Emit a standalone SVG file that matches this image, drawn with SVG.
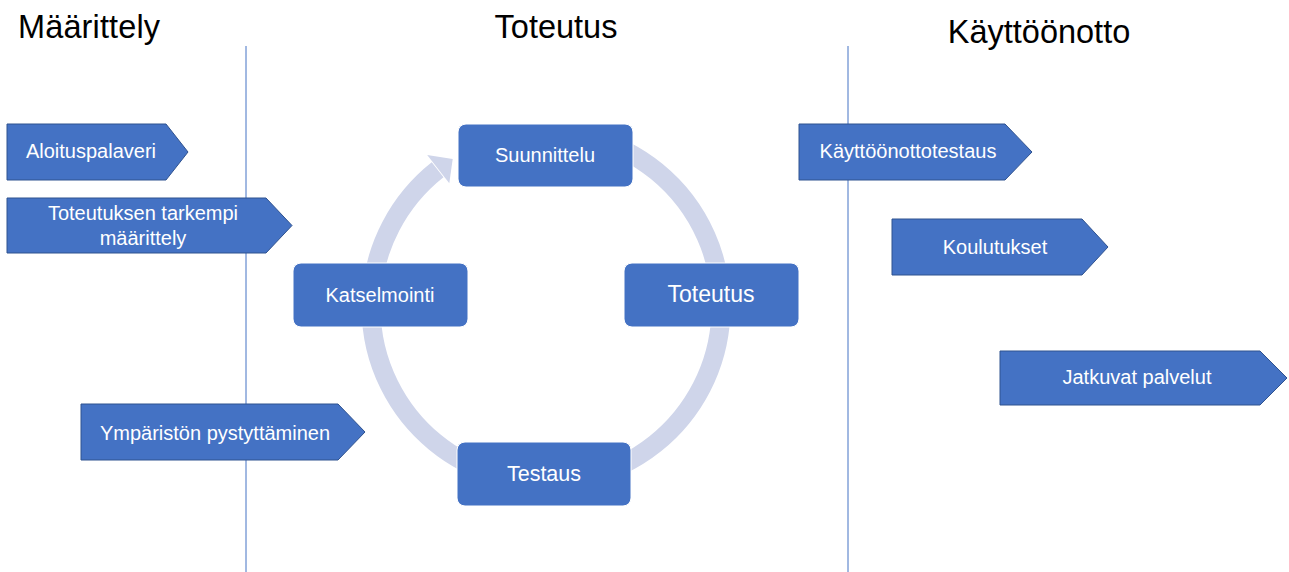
<svg xmlns="http://www.w3.org/2000/svg" width="1289" height="572" viewBox="0 0 1289 572">
  <style>
    .title { font-family: "Liberation Sans", Arial, sans-serif; font-size: 32.5px; fill: #000000; }
    .lbl { font-family: "Liberation Sans", Arial, sans-serif; font-size: 20px; fill: #ffffff; text-anchor: middle; }
    .step { fill: #4472C4; stroke: #2F528F; stroke-width: 1; }
    .box { fill: #4472C4; stroke: #ffffff; stroke-width: 1; }
    .divider { stroke: #4472C4; stroke-width: 1; }
    .ring { fill: none; stroke: #CFD5EA; stroke-width: 19; }
    .ringhead { fill: #CFD5EA; }
  </style>
  <rect width="1289" height="572" fill="#ffffff"/>

  <!-- phase headings -->
  <g id="headings">
    <text class="title" x="18" y="38" textLength="142" lengthAdjust="spacing">Määrittely</text>
    <text class="title" x="556" y="38" text-anchor="middle">Toteutus</text>
    <text class="title" x="1039" y="43" text-anchor="middle">Käyttöönotto</text>
  </g>

  <!-- phase dividers -->
  <g id="dividers">
    <line class="divider" x1="246" y1="46" x2="246" y2="572"/>
    <line class="divider" x1="848" y1="46" x2="848" y2="572"/>
  </g>

  <!-- iteration cycle ring -->
  <g id="connectors">
    <path class="ring" d="M591.3 138.0 A175 175 0 1 1 437.6 169.7"/>
    <polygon class="ringhead" points="452.7,158.9 427.2,154.9 449.3,183.3"/>
  </g>

  <!-- Määrittely steps -->
  <g id="aloituspalaveri">
    <polygon class="step" points="7,124 166,124 188,152 166,180 7,180"/>
    <text class="lbl" x="91" y="158">Aloituspalaveri</text>
  </g>
  <g id="toteutuksen-maarittely">
    <polygon class="step" points="7,198 266,198 292,225.5 266,253 7,253"/>
    <text class="lbl" x="143" y="220">Toteutuksen tarkempi</text>
    <text class="lbl" x="143" y="245">määrittely</text>
  </g>
  <g id="ympariston-pystyttaminen">
    <polygon class="step" points="81,404 338,404 365,432 338,460 81,460"/>
    <text class="lbl" x="215" y="440">Ympäristön pystyttäminen</text>
  </g>

  <!-- cycle nodes -->
  <g id="suunnittelu">
    <rect class="box" x="458" y="124" width="175" height="63" rx="8"/>
    <text class="lbl" x="545" y="162">Suunnittelu</text>
  </g>
  <g id="toteutus">
    <rect class="box" x="624" y="263" width="175" height="64" rx="8"/>
    <text class="lbl" x="711" y="302" style="font-size:23px">Toteutus</text>
  </g>
  <g id="testaus">
    <rect class="box" x="457" y="442" width="174" height="64" rx="8"/>
    <text class="lbl" x="544" y="481" style="font-size:21.5px">Testaus</text>
  </g>
  <g id="katselmointi">
    <rect class="box" x="293" y="263" width="175" height="64" rx="8"/>
    <text class="lbl" x="380" y="302">Katselmointi</text>
  </g>

  <!-- Käyttöönotto steps -->
  <g id="kayttoonottotestaus">
    <polygon class="step" points="799,124 1005,124 1032,152 1005,180 799,180"/>
    <text class="lbl" x="908" y="158">Käyttöönottotestaus</text>
  </g>
  <g id="koulutukset">
    <polygon class="step" points="892,219 1082,219 1108,247 1082,275 892,275"/>
    <text class="lbl" x="995" y="254">Koulutukset</text>
  </g>
  <g id="jatkuvat-palvelut">
    <polygon class="step" points="1000,351 1260,351 1287,378 1260,405 1000,405"/>
    <text class="lbl" x="1137" y="384">Jatkuvat palvelut</text>
  </g>
</svg>
